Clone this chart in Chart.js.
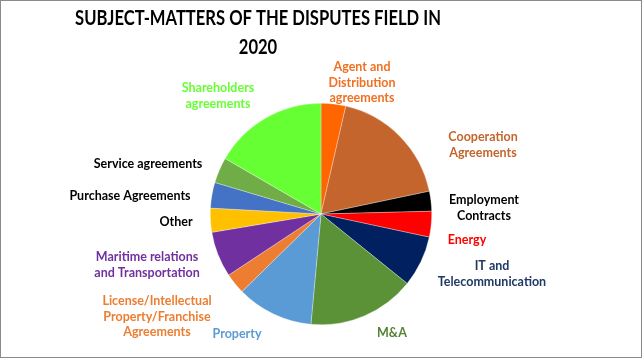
<!DOCTYPE html>
<html>
<head>
<meta charset="utf-8">
<script src="https://cdn.jsdelivr.net/npm/chart.js@4"></script>
<style>
  html, body { margin: 0; padding: 0; background: #fff; }
  #wrap { position: relative; width: 643px; height: 359px; }
  #frame { position: absolute; left: 0; top: 0; width: 640px; height: 356px; border: 1px solid #8a8a8a; pointer-events: none; }
  canvas { display: block; }
</style>
</head>
<body>
<div id="wrap">
  <canvas id="c" width="643" height="359"></canvas>
  <div id="frame"></div>
</div>
<script>
const categories = [
  "Agent and Distribution agreements",
  "Cooperation Agreements",
  "Employment Contracts",
  "Energy",
  "IT and Telecommunication",
  "M&A",
  "Property",
  "License/Intellectual Property/Franchise Agreements",
  "Maritime relations and Transportation",
  "Other",
  "Purchase Agreements",
  "Service agreements",
  "Shareholders agreements"
];
const shares = [3.6, 18.1, 2.9, 3.75, 7.45, 15.65, 11.2, 3.05, 6.65, 3.5, 3.75, 3.75, 16.65];
const titleLines = ["SUBJECT-MATTERS OF THE DISPUTES FIELD IN", "2020"];

const sliceColors = ["#FF6600", "#C4652D", "#000000", "#FF0000", "#002060", "#5B9137",
  "#5B9BD5", "#ED7D31", "#7030A0", "#FFC000", "#4472C4", "#70AD47", "#66FF33"];

// label placement (text lines, centre x, first-line y, colour)
const labelLayout = [
  { lines: ["Agent and", "Distribution", "agreements"], x: 362, y: 67, color: "#F07122" },
  { lines: ["Cooperation", "Agreements"], x: 483, y: 137, color: "#C4652D" },
  { lines: ["Employment", "Contracts"], x: 484, y: 200, color: "#000000" },
  { lines: ["Energy"], x: 467, y: 240, color: "#FF0000" },
  { lines: ["IT and", "Telecommunication"], x: 492, y: 266, color: "#1F3864" },
  { lines: ["M&A"], x: 392, y: 333, color: "#548235" },
  { lines: ["Property"], x: 237, y: 334, color: "#5B9BD5" },
  { lines: ["License/Intellectual", "Property/Franchise", "Agreements"], x: 157, y: 301, color: "#ED7D31" },
  { lines: ["Maritime relations", "and Transportation"], x: 147, y: 257, color: "#7030A0" },
  { lines: ["Other"], x: 176, y: 222, color: "#000000" },
  { lines: ["Purchase Agreements"], x: 130, y: 196, color: "#000000" },
  { lines: ["Service agreements"], x: 148, y: 164, color: "#000000" },
  { lines: ["Shareholders", "agreements"], x: 218, y: 88, color: "#66FF33" }
];

const FONT = "Lato, 'Open Sans', sans-serif";

const textPlugin = {
  id: 'texts',
  afterDraw(chart) {
    const ctx = chart.ctx;
    ctx.save();
    ctx.textAlign = 'center';
    ctx.textBaseline = 'middle';
    ctx.fillStyle = '#000';
    ctx.font = "bold 21px " + FONT;
    const sx = 0.79;
    ctx.save();
    ctx.translate(258, 0);
    ctx.scale(sx, 1);
    ctx.fillText(titleLines[0], 0, 18);
    ctx.fillText(titleLines[1], 0, 47);
    ctx.restore();
    ctx.font = "bold 12.5px " + FONT;
    labelLayout.forEach(l => {
      ctx.fillStyle = l.color;
      l.lines.forEach((t, i) => ctx.fillText(t, l.x, l.y + i * 15.7));
    });
    ctx.restore();
  }
};

new Chart(document.getElementById('c'), {
  type: 'pie',
  data: {
    labels: categories,
    datasets: [{
      data: shares,
      backgroundColor: sliceColors,
      borderWidth: 0.6,
      borderColor: 'rgba(255,255,255,0.5)'
    }]
  },
  options: {
    responsive: false,
    animation: false,
    layout: { padding: { top: 103, bottom: 34, left: 0, right: 1 } },
    plugins: { legend: { display: false }, title: { display: false }, tooltip: { enabled: false } }
  },
  plugins: [textPlugin]
});
</script>
</body>
</html>
